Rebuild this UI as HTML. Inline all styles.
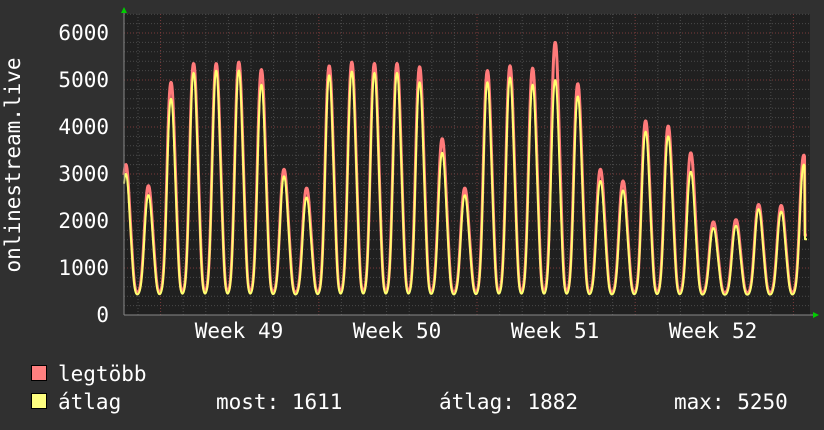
<!DOCTYPE html>
<html><head><meta charset="utf-8"><style>
html,body{margin:0;padding:0;background:#303030;}
svg{display:block;}
text{font-family:"DejaVu Sans Mono","Liberation Mono",monospace;fill:#fff;}
</style></head><body>
<svg id="s" width="824" height="430" xmlns="http://www.w3.org/2000/svg">
<rect x="0" y="0" width="824" height="430" fill="#303030"/>
<rect x="124" y="14" width="686" height="301" fill="#202020"/>
<g id="grid"></g>
<path id="red" fill="none" stroke="#ff7a7a" stroke-width="3" stroke-linejoin="round"/>
<path id="yel" fill="none" stroke="#ffff70" stroke-width="2" stroke-linejoin="round"/>
<line x1="124" y1="315" x2="814" y2="315" stroke="#888" stroke-width="1"/>
<line x1="124" y1="12" x2="124" y2="315" stroke="#888" stroke-width="1"/>
<polygon points="121,13 127,13 124,7" fill="#0c0"/>
<polygon points="813,312 813,318 819,315" fill="#0c0"/>
<g font-size="21" text-anchor="end">
<text x="109" y="322">0</text>
<text x="109" y="275">1000</text>
<text x="109" y="228">2000</text>
<text x="109" y="181">3000</text>
<text x="109" y="134">4000</text>
<text x="109" y="87">5000</text>
<text x="109" y="40">6000</text>
</g>
<text font-size="21" transform="translate(20,165) rotate(-90)" text-anchor="middle">onlinestream.live</text>
<g font-size="21" text-anchor="middle">
<text x="239" y="338">Week 49</text>
<text x="397" y="338">Week 50</text>
<text x="555" y="338">Week 51</text>
<text x="713" y="338">Week 52</text>
</g>
<rect x="31.5" y="365.5" width="15" height="15" fill="#ff8080" stroke="#000"/>
<rect x="31.5" y="393.5" width="15" height="15" fill="#ffff80" stroke="#000"/>
<g font-size="21">
<text x="58" y="381">legtöbb</text>
<text x="58" y="409">átlag</text>
<text x="216" y="409">most: 1611</text>
<text x="439" y="409">átlag: 1882</text>
<text x="674" y="409">max: 5250</text>
</g>
</svg>
<script>
var g=document.getElementById('grid'),ns='http://www.w3.org/2000/svg';
function ln(x1,y1,x2,y2,c){var l=document.createElementNS(ns,'line');l.setAttribute('x1',x1);l.setAttribute('y1',y1);l.setAttribute('x2',x2);l.setAttribute('y2',y2);l.setAttribute('stroke',c);l.setAttribute('stroke-width',1);l.setAttribute('stroke-dasharray','1,2');g.appendChild(l);}
function Y(v){return 315-v*0.047;}
for(var v=200;v<=6400;v+=200){var y=Y(v);if(y<14)break;ln(124,y,810,y,v%1000==0?'#7a3a3a':'#4a4a4a');}
for(var k=-1;k<32;k++){var x=138+22.6*k;if(x<125||x>809)continue;var maj=((k-1)%7==0);ln(x,14,x,315,maj?'#7a3a3a':'#4a4a4a');}
var rp=[3200,2750,4950,5350,5350,5380,5220,3100,2700,5300,5380,5350,5350,5280,3750,2700,5200,5300,5250,5800,4920,3100,2850,4130,4020,3450,1980,2030,2350,2330,3400];
var yp=[3000,2550,4600,5150,5200,5200,4900,2950,2500,5100,5180,5150,5150,4950,3450,2550,4950,5050,4900,5000,4650,2850,2650,3900,3800,3050,1850,1900,2250,2200,3200];
function K(dx){var a=Math.abs(dx);return Math.exp(-Math.pow(a/5.3,2.3))+0.1*Math.exp(-(dx-6)*(dx-6)/6);}
var r='',y2='';
for(var x=124;x<=807;x+=0.5){
 var vr=460,vy=420;
 for(var i=0;i<rp.length;i++){var c=125.8+22.6*i;var dx=x-c;if(Math.abs(dx)>25)continue;var k=K(dx);vr+=(rp[i]-460)*k;vy+=(yp[i]-420)*k;}
 if(x>=805){vr=1700;vy=1611;}
 r+=(x==124?'M':'L')+x+','+Y(vr).toFixed(1);
 y2+=(x==124?'M':'L')+x+','+Y(vy).toFixed(1);
}
document.getElementById('red').setAttribute('d',r);
document.getElementById('yel').setAttribute('d',y2);
</script>
</body></html>
